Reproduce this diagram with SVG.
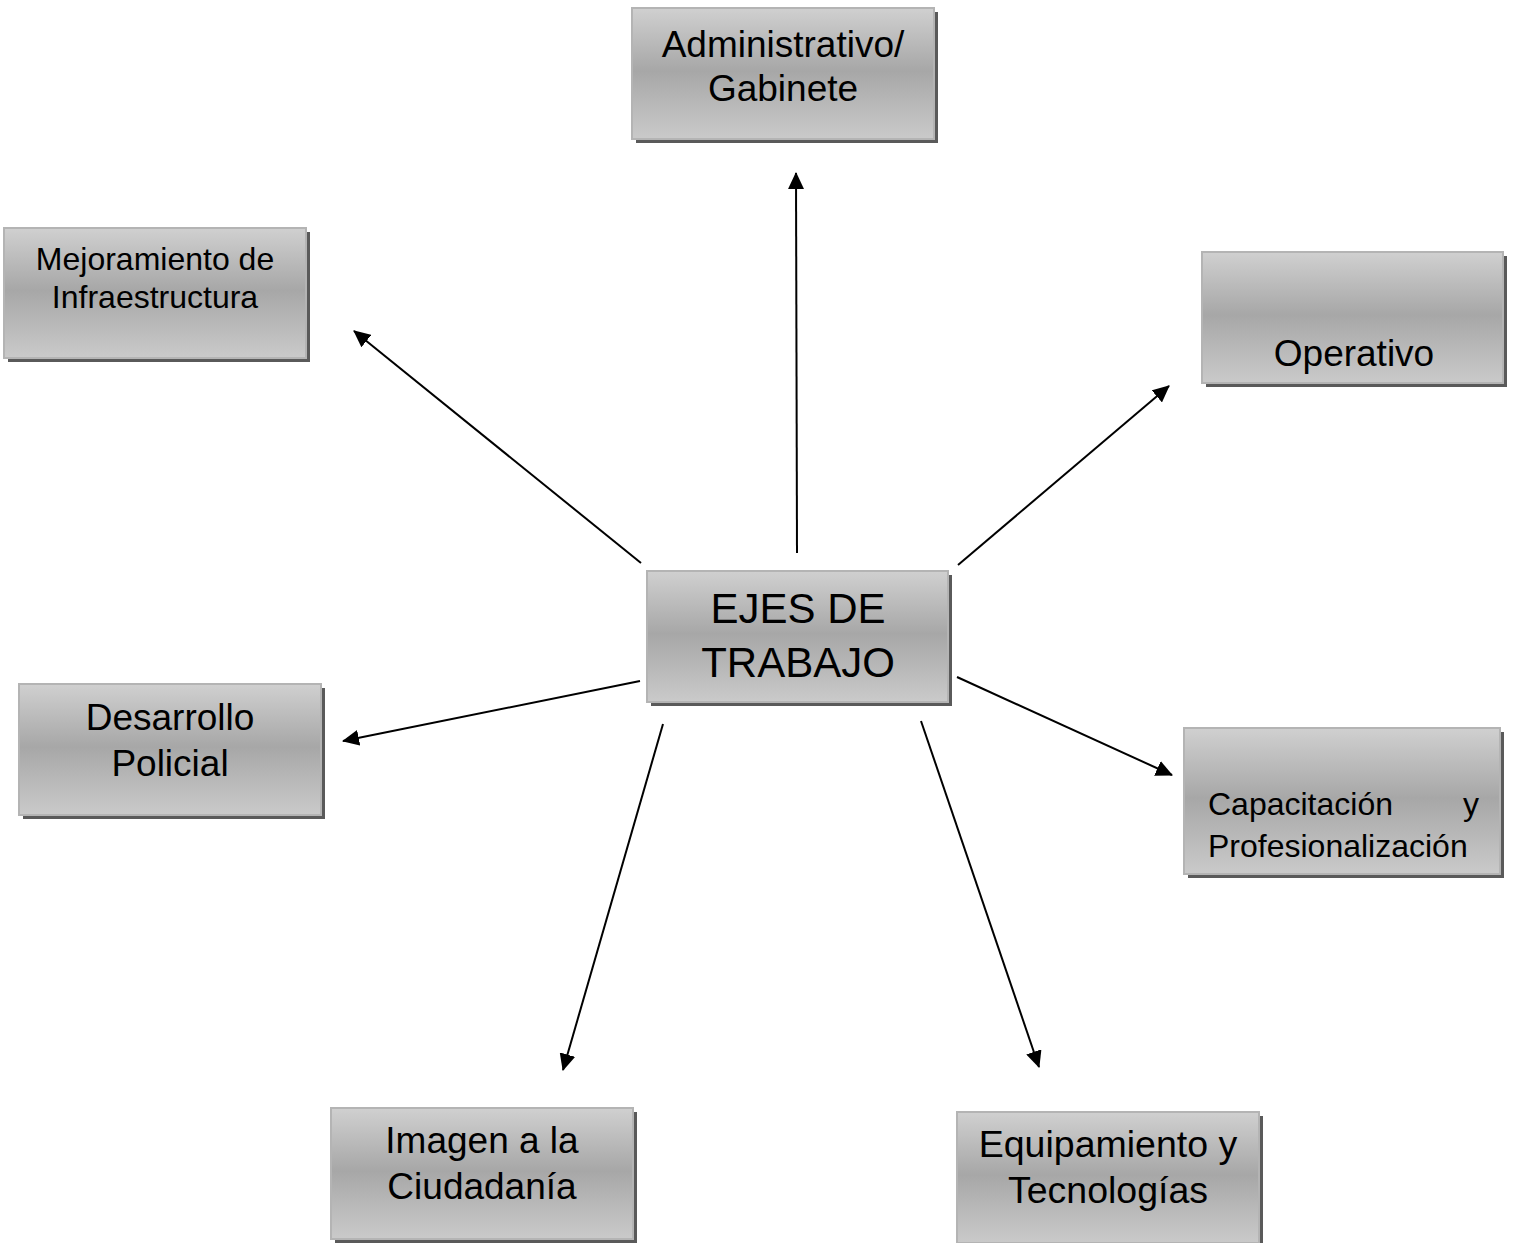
<svg xmlns="http://www.w3.org/2000/svg" width="1513" height="1243" viewBox="0 0 1513 1243">
<style>
.box{fill:url(#g);stroke:#b4b4b4;stroke-width:2}
.sh{fill:#5a5a5a}
text{font-family:"Liberation Sans",Arial,sans-serif;fill:#000;text-anchor:middle}
.conn line{stroke:#000;stroke-width:2;marker-end:url(#ah)}
</style>
<defs>
<linearGradient id="g" x1="0" y1="0" x2="0" y2="1">
<stop offset="0" stop-color="#d0d0d0"/>
<stop offset="0.48" stop-color="#a7a7a7"/>
<stop offset="1" stop-color="#cacaca"/>
</linearGradient>
<marker id="ah" markerUnits="userSpaceOnUse" markerWidth="18" markerHeight="16" refX="16" refY="8" orient="auto">
<path d="M0,0 L17,8 L0,16 Z" fill="#000"/>
</marker>
</defs>
<rect width="1513" height="1243" fill="#fff"/>
<g class="conn" id="connectors">
<line x1="797" y1="553" x2="796" y2="173"/>
<line x1="641" y1="563" x2="354" y2="331"/>
<line x1="958" y1="565" x2="1169" y2="386"/>
<line x1="640" y1="681" x2="343" y2="741"/>
<line x1="957" y1="677" x2="1172" y2="775"/>
<line x1="663" y1="724" x2="563" y2="1070"/>
<line x1="921" y1="721" x2="1039" y2="1067"/>
</g>
<g id="n-admin">
<rect class="sh" x="636" y="12" width="302" height="131"/>
<rect class="box" x="632" y="8" width="302" height="131"/>
<text x="783" y="57" font-size="37">Administrativo/</text>
<text x="783" y="101" font-size="37">Gabinete</text>
</g>
<g id="n-mejoramiento">
<rect class="sh" x="8" y="232" width="302" height="130"/>
<rect class="box" x="4" y="228" width="302" height="130"/>
<text x="155" y="270" font-size="32">Mejoramiento de</text>
<text x="155" y="308" font-size="32">Infraestructura</text>
</g>
<g id="n-operativo">
<rect class="sh" x="1206" y="256" width="301" height="131"/>
<rect class="box" x="1202" y="252" width="301" height="131"/>
<text x="1354" y="366" font-size="37">Operativo</text>
</g>
<g id="n-ejes">
<rect class="sh" x="651" y="575" width="301" height="131"/>
<rect class="box" x="647" y="571" width="301" height="131"/>
<text x="798" y="623" font-size="42">EJES DE</text>
<text x="798" y="677" font-size="42">TRABAJO</text>
</g>
<g id="n-desarrollo">
<rect class="sh" x="23" y="688" width="302" height="131"/>
<rect class="box" x="19" y="684" width="302" height="131"/>
<text x="170" y="730" font-size="37">Desarrollo</text>
<text x="170" y="776" font-size="37">Policial</text>
</g>
<g id="n-capacitacion">
<rect class="sh" x="1188" y="732" width="316" height="146"/>
<rect class="box" x="1184" y="728" width="316" height="146"/>
<text x="1208" y="815" font-size="32" style="text-anchor:start">Capacitación</text>
<text x="1479" y="815" font-size="32" style="text-anchor:end">y</text>
<text x="1208" y="857" font-size="32" style="text-anchor:start">Profesionalización</text>
</g>
<g id="n-imagen">
<rect class="sh" x="335" y="1112" width="302" height="131"/>
<rect class="box" x="331" y="1108" width="302" height="131"/>
<text x="482" y="1153" font-size="37">Imagen a la</text>
<text x="482" y="1199" font-size="37">Ciudadanía</text>
</g>
<g id="n-equipamiento">
<rect class="sh" x="961" y="1116" width="302" height="131"/>
<rect class="box" x="957" y="1112" width="302" height="131"/>
<text x="1108" y="1157" font-size="37.5">Equipamiento y</text>
<text x="1108" y="1203" font-size="37.5">Tecnologías</text>
</g>
</svg>
